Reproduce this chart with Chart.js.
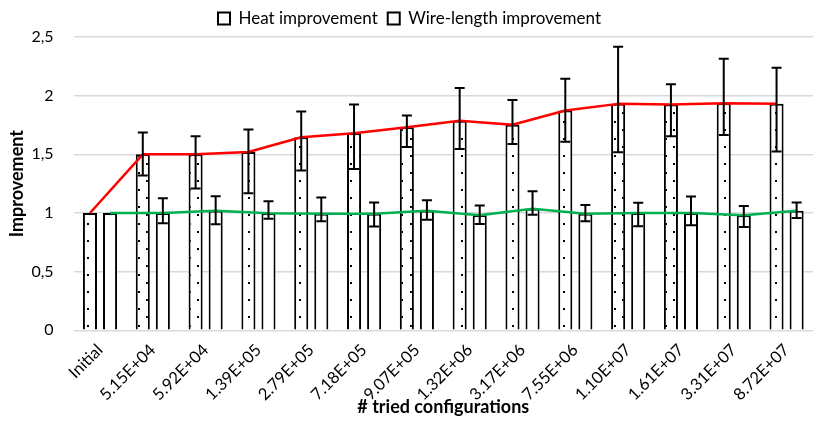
<!DOCTYPE html>
<html>
<head>
<meta charset="utf-8">
<script src="https://cdn.jsdelivr.net/npm/chart.js@4"></script>
<style>
  html, body { margin: 0; padding: 0; background: #fff; }
  #wrap { width: 830px; height: 425px; }
</style>
</head>
<body>
<div id="wrap"><canvas id="barChart"></canvas></div>
<script>
const configs = ['Initial', '5.15E+04', '5.92E+04', '1.39E+05', '2.79E+05', '7.18E+05', '9.07E+05',
  '1.32E+06', '3.17E+06', '7.55E+06', '1.10E+07', '1.61E+07', '3.31E+07', '8.72E+07'];

const heat     = [1.00, 1.50, 1.50, 1.52, 1.645, 1.68, 1.73, 1.786, 1.752, 1.873, 1.93, 1.924, 1.935, 1.93];
const heatHigh = [1.00, 1.687, 1.653, 1.712, 1.865, 1.925, 1.831, 2.066, 1.964, 2.145, 2.417, 2.097, 2.315, 2.238];
const heatLow  = [1.00, 1.319, 1.208, 1.169, 1.362, 1.375, 1.562, 1.545, 1.587, 1.608, 1.517, 1.653, 1.664, 1.523];

const wire     = [1.00, 0.999, 1.019, 0.997, 0.993, 0.993, 1.02, 0.98, 1.036, 0.993, 1.00, 1.00, 0.98, 1.019];
const wireHigh = [1.00, 1.126, 1.143, 1.101, 1.133, 1.09, 1.108, 1.064, 1.186, 1.067, 1.087, 1.141, 1.059, 1.09];
const wireLow  = [1.00, 0.912, 0.903, 0.951, 0.93, 0.885, 0.943, 0.906, 0.985, 0.929, 0.886, 0.895, 0.88, 0.957];

const yTicks = [0, 0.5, 1, 1.5, 2, 2.5];

// dotted fill for the heat bars
function dotPattern() {
  const c = document.createElement('canvas');
  c.width = 17; c.height = 17;
  const g = c.getContext('2d');
  g.fillStyle = '#fff';
  g.fillRect(0, 0, 17, 17);
  g.fillStyle = '#000';
  g.fillRect(2, 2, 2, 2);
  g.fillRect(10, 10, 2, 2);
  return g.createPattern(c, 'repeat');
}

const ctx = document.getElementById('barChart').getContext('2d');

// trend line through the bar tops, then error bars from the high/low arrays
const barExtras = {
  id: 'barExtras',
  afterDatasetsDraw(chart) {
    const y = chart.scales.y;
    const g = chart.ctx;
    g.save();
    chart.data.datasets.forEach((ds, di) => {
      const bars = chart.getDatasetMeta(di).data;
      g.strokeStyle = ds.trendColor;
      g.lineWidth = 2.5;
      g.lineJoin = 'round';
      g.beginPath();
      bars.forEach((bar, i) => {
        const py = y.getPixelForValue(ds.data[i]);
        if (i === 0) g.moveTo(bar.x, py); else g.lineTo(bar.x, py);
      });
      g.stroke();
    });
    g.strokeStyle = '#000';
    g.lineWidth = 2;
    chart.data.datasets.forEach((ds, di) => {
      chart.getDatasetMeta(di).data.forEach((bar, i) => {
        const hi = ds.errHigh[i], lo = ds.errLow[i];
        if (hi === lo) return;
        const yh = y.getPixelForValue(hi), yl = y.getPixelForValue(lo);
        g.beginPath();
        g.moveTo(bar.x, yh); g.lineTo(bar.x, yl);
        g.moveTo(bar.x - 5, yh); g.lineTo(bar.x + 5, yh);
        g.moveTo(bar.x - 5, yl); g.lineTo(bar.x + 5, yl);
        g.stroke();
      });
    });
    g.restore();
  }
};

const font = 'Lato, "Open Sans", sans-serif';

const barChart = new Chart(ctx, {
  type: 'bar',
  data: {
    labels: configs,
    datasets: [
      {
        label: 'Heat improvement',
        data: heat,
        errHigh: heatHigh,
        errLow: heatLow,
        trendColor: '#ff0000',
        backgroundColor: dotPattern(),
        borderColor: '#000',
        borderWidth: 2
      },
      {
        label: 'Wire-length improvement',
        data: wire,
        errHigh: wireHigh,
        errLow: wireLow,
        trendColor: '#00b050',
        backgroundColor: '#fff',
        borderColor: '#000',
        borderWidth: 2
      }
    ]
  },
  options: {
    responsive: true,
    maintainAspectRatio: false,
    animation: false,
    datasets: { bar: { categoryPercentage: 0.76, barPercentage: 0.7 } },
    layout: { autoPadding: false, padding: { left: 6, right: 17, top: 0, bottom: 0 } },
    plugins: {
      tooltip: { enabled: false },
      legend: {
        position: 'top',
        labels: {
          font: { family: font, size: 17 },
          color: '#000',
          boxWidth: 12,
          boxHeight: 12,
          padding: 10,
          generateLabels: chart => Chart.defaults.plugins.legend.labels.generateLabels(chart).map(l =>
            Object.assign(l, { fillStyle: '#fff', strokeStyle: '#000', lineWidth: 2 }))
        }
      }
    },
    scales: {
      x: {
        grid: { display: false },
        border: { display: false },
        ticks: {
          color: '#000',
          font: { family: font, size: 16.5 },
          minRotation: 45,
          maxRotation: 45,
          padding: 2
        },
        title: {
          display: true,
          text: '# tried configurations',
          color: '#000',
          font: { family: font, size: 18, weight: 'bold' },
          padding: { top: -10, bottom: 7 }
        }
      },
      y: {
        min: yTicks[0],
        max: yTicks[yTicks.length - 1],
        afterBuildTicks: axis => { axis.ticks = yTicks.map(v => ({ value: v })); },
        afterFit: axis => { axis.width = 67.6; },
        grid: { color: '#d9d9d9', lineWidth: 1.5, drawTicks: false },
        border: { display: false },
        ticks: {
          color: '#000',
          font: { family: font, size: 16 },
          padding: 20,
          callback: v => String(v).replace('.', ',')
        },
        title: {
          display: true,
          text: 'Improvement',
          color: '#000',
          font: { family: font, size: 18, weight: 'bold' },
          padding: { top: 0, bottom: 4 }
        }
      }
    }
  },
  plugins: [barExtras]
});
</script>
</body>
</html>
